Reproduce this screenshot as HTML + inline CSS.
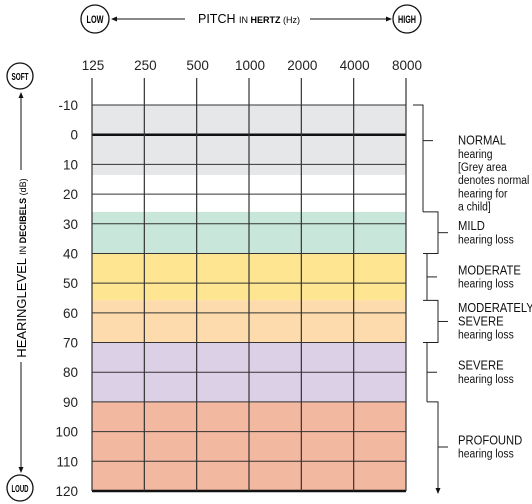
<!DOCTYPE html>
<html><head><meta charset="utf-8"><style>
body{margin:0;background:#fff}
svg{display:block;font-family:"Liberation Sans",sans-serif}
</style></head><body>
<svg id="c" width="532" height="504" viewBox="0 0 532 504">
<defs><marker id="ah" markerWidth="6" markerHeight="6" refX="5" refY="3" orient="auto"><path d="M0,0.5 L6,3 L0,5.5Z" fill="#111"/></marker></defs>
<g id="top">
<circle cx="95" cy="19" r="14" fill="#fff" stroke="#111" stroke-width="1.3"/>
<text x="95" y="23" font-size="11" font-weight="bold" text-anchor="middle" textLength="17" lengthAdjust="spacingAndGlyphs">LOW</text>
<circle cx="407" cy="19" r="14" fill="#fff" stroke="#111" stroke-width="1.3"/>
<text x="407" y="23" font-size="11" font-weight="bold" text-anchor="middle" textLength="18" lengthAdjust="spacingAndGlyphs">HIGH</text>
<line x1="185" y1="19" x2="112" y2="19" stroke="#111" marker-end="url(#ah)"/>
<line x1="310" y1="19" x2="391" y2="19" stroke="#111" marker-end="url(#ah)"/>
<text x="249" y="23" font-size="12.5" text-anchor="middle">PITCH <tspan font-size="9">IN </tspan><tspan font-size="9" font-weight="bold">HERTZ</tspan><tspan font-size="9"> (Hz)</tspan></text>
</g>
<g id="left">
<circle cx="20" cy="76" r="13" fill="#fff" stroke="#111" stroke-width="1.3"/>
<text x="20" y="80" font-size="10" font-weight="bold" text-anchor="middle" textLength="17" lengthAdjust="spacingAndGlyphs">SOFT</text>
<circle cx="20" cy="488" r="13" fill="#fff" stroke="#111" stroke-width="1.3"/>
<text x="20" y="492" font-size="10" font-weight="bold" text-anchor="middle" textLength="17" lengthAdjust="spacingAndGlyphs">LOUD</text>
<line x1="21" y1="170" x2="21" y2="93" stroke="#111" marker-end="url(#ah)"/>
<line x1="21" y1="362" x2="21" y2="472" stroke="#111" marker-end="url(#ah)"/>
<text transform="translate(26,268) rotate(-90)" font-size="13" text-anchor="middle">HEARINGLEVEL <tspan font-size="9">IN </tspan><tspan font-size="9" font-weight="bold">DECIBELS</tspan><tspan font-size="9"> (dB)</tspan></text>
</g>
<g id="plot"></g>
<g id="brackets" stroke="#222" fill="none" stroke-width="1"></g>
<g id="btext" fill="#111" transform="translate(458,0) scale(0.9,1) translate(-458,0)"></g>
</svg>
<script>
const freqs=["125","250","500","1000","2000","4000","8000"];
const levels=[-10,0,10,20,30,40,50,60,70,80,90,100,110,120];
const bandStart=[-10,13.6,26,40,55.8,70,90];
const bandEnd=[13.6,26,40,55.8,70,90,120];
const bandColor=["#e6e7e8","#ffffff","#c8e6da","#fde592","#fddbac","#dcd0e7","#f2b8a0"];
const groups=[["NORMAL","hearing","[Grey area","denotes normal","hearing for","a child]"],["MILD","hearing loss"],["MODERATE","hearing loss"],["MODERATELY","SEVERE","hearing loss"],["SEVERE","hearing loss"],["PROFOUND","hearing loss"]];
const groupStart=[-10,26,40,55.8,70,90];
const groupEnd=[26,40,55.8,70,90,120];
const NS="http://www.w3.org/2000/svg";
const X0=92,X1=406,Y0=105,Y1=491;
const x=i=>X0+i*(X1-X0)/(freqs.length-1);
const y=v=>Y0+(v-levels[0])*(Y1-Y0)/(levels[levels.length-1]-levels[0]);
function mk(p,t,a){const e=document.createElementNS(NS,t);for(const k in a)e.setAttribute(k,a[k]);p.appendChild(e);return e;}
const plot=document.getElementById('plot');
bandStart.forEach((s,i)=>{const r=mk(plot,'rect',{x:X0,y:y(s),width:X1-X0,height:y(bandEnd[i])-y(s),fill:bandColor[i]});

});
levels.forEach((v,i)=>{const l=mk(plot,'line',{x1:X0,x2:X1,y1:y(v),y2:y(v),stroke:(v===0||v===120)?'#111':'#333','stroke-width':(v===0||v===120)?2.5:1});


const t=mk(plot,'text',{x:78,y:y(v)+5,'font-size':13.5,'text-anchor':'end',fill:'#222'});t.textContent=v;

});
freqs.forEach((f,i)=>{const l=mk(plot,'line',{x1:x(i),x2:x(i),y1:78,y2:Y1,stroke:'#333','stroke-width':1.2});


const t=mk(plot,'text',{x:x(i)+1,y:70,'font-size':13.5,'text-anchor':'middle',fill:'#222'});t.textContent=f;

});
const br=document.getElementById('brackets'),bt=document.getElementById('btext');
groups.forEach((g,i)=>{const a=y(groupStart[i]),b=y(groupEnd[i]);const vx=(i%2===0)?(i===0?423:427):438;const ox=i===0?413:(i%2===0?423:427);
if(i===0){mk(br,'polyline',{points:`${ox},${a} ${vx},${a} ${vx},${b}`});}
else if(i===5){mk(br,'polyline',{points:`427,${a} ${vx},${a} ${vx},${b-6}`});mk(br,'line',{x1:vx,y1:b-8,x2:vx,y2:b+2,'marker-end':'url(#ah)'});}
else if(i%2===1){mk(br,'polyline',{points:`423,${a} ${vx},${a} ${vx},${b} 423,${b}`});}
else{mk(br,'line',{x1:vx,y1:a,x2:vx,y2:b});}
const mid=i===0?y(2):(i===5?447:(a+b)/2);
const tk=mk(br,'line',{x1:vx,y1:mid,x2:vx+10,y2:mid});


const n=g.length,lh=13.2;const t0=mid-(i===0?0:(n-1)*lh/2)+4;
const t=mk(bt,'text',{x:458,y:t0});


g.forEach((s,j)=>{const ts=mk(t,'tspan',{x:458,y:t0+j*lh,'font-size':(j===0||(i===3&&j===1))?12.5:11.5});ts.textContent=s;});});
</script>
</body></html>
